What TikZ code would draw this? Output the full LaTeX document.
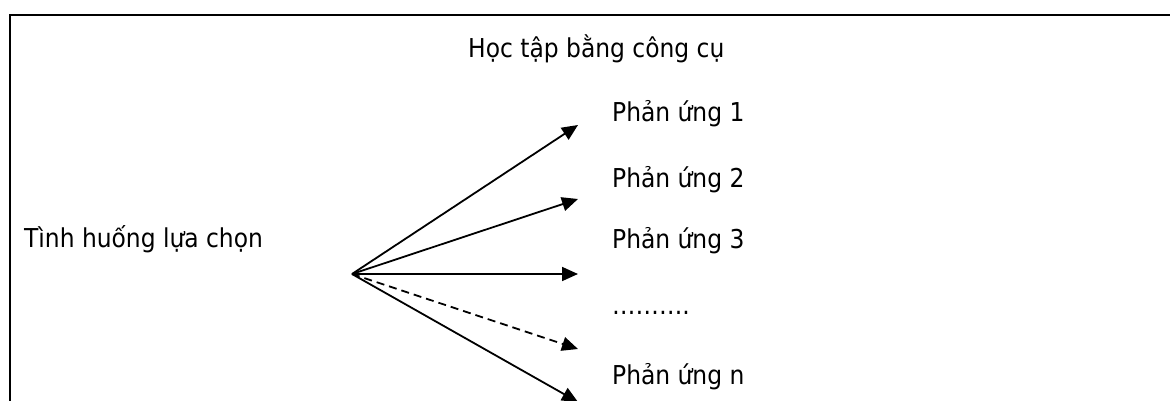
\documentclass[tikz,border=0pt]{standalone}
\usepackage{fontspec}
\setmainfont{DejaVu Sans Condensed}
\usetikzlibrary{arrows.meta}
\tikzset{
  lbl/.style={inner sep=0pt, anchor=base west, font=\fontsize{26}{31}\selectfont},
  arr/.style={line width=1.8pt, -{Triangle[length=16pt,width=14pt]}},
  frame/.style={line width=2.6pt}
}
\begin{document}
\begin{tikzpicture}[x=1pt,y=-1pt]
\useasboundingbox (0,0) rectangle (1170,401);
\clip (0,0) rectangle (1170,401);
\coordinate (fb) at (10,410);
\coordinate (fc) at (10,15);
\coordinate (fr) at (1175,15);
\draw[frame] (fb) -- (fc) -- (fr);
\node[lbl] (title) at (468,58) {Học tập bằng công cụ};
\node[lbl] (sit) at (24,247) {Tình huống lựa chọn};
\node[lbl] (r1) at (612,122) {Phản ứng 1};
\node[lbl] (r2) at (612,187) {Phản ứng 2};
\node[lbl] (r3) at (612,248) {Phản ứng 3};
\node[lbl] (dots) at (612,314) {……….};
\node[lbl] (rn) at (612,384) {Phản ứng n};
\coordinate (o) at (352,274);
\coordinate (t1) at (578,125);
\coordinate (t2) at (578,199);
\coordinate (t3) at (578,274);
\coordinate (t4) at (578,349);
\coordinate (t5) at (578,402);
\draw[arr] (o) -- (t1);
\draw[arr] (o) -- (t2);
\draw[arr] (o) -- (t3);
\draw[arr, dash pattern=on 8pt off 5pt] (o) -- (t4);
\draw[arr] (o) -- (t5);
\end{tikzpicture}
\end{document}
